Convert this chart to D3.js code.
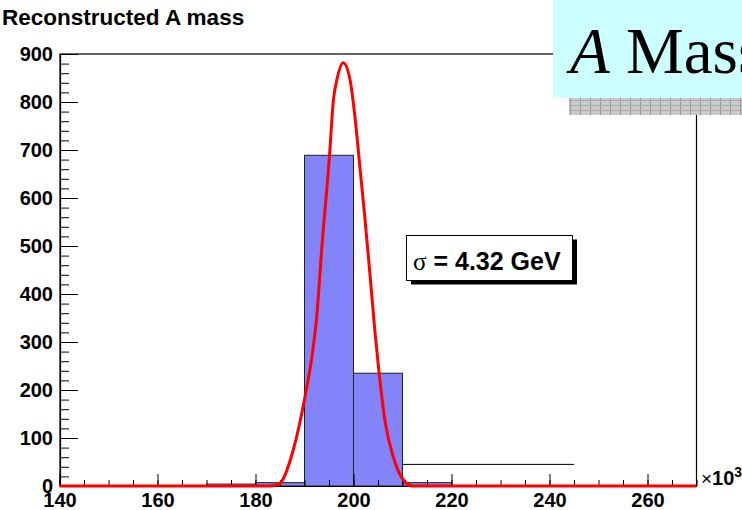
<!DOCTYPE html>
<html>
<head>
<meta charset="utf-8">
<script src="https://cdn.jsdelivr.net/npm/d3@7/dist/d3.min.js"></script>
<style>
  body { margin: 0; background: #fff; }
  svg { display: block; }
  text { font-family: "Liberation Sans", Arial, sans-serif; }
</style>
</head>
<body>
<svg id="chart" width="742" height="510"></svg>
<script>
// histogram bins (x in units of 10^3)
const binLow = [170, 180, 190, 200, 210];
const binHigh = [180, 190, 200, 210, 220];
const binCounts = [4, 7, 689, 235, 7];

// gaussian fit curve
const fitX = [140, 183, 184, 185, 187.7, 190.1, 191.7, 192.5, 193.5, 195.1, 195.9, 196.6, 197.9,
              199.3, 200.3, 201.3, 202.3, 203.4, 204.4, 205.3, 206.5, 208.1, 210.2, 212.1, 270];
const fitY = [0, 0, 1.5, 5.6, 75, 186, 283, 353, 492, 688, 804, 846, 882,
              846, 769, 665, 561, 436, 319, 228, 131, 61, 12.5, 0, 0];

// the stray horizontal segment right of the peak
const strayX = [210, 245];
const strayY = [45, 45];

const xTicks = [140, 160, 180, 200, 220, 240, 260];
const yTicks = [0, 100, 200, 300, 400, 500, 600, 700, 800, 900];

const svg = d3.select("#chart");
const plotL = 60, plotR = 696.5, plotT = 54, plotB = 486;

const x = d3.scaleLinear().domain([140, 270]).range([plotL - 0.5, plotR]);
const y = d3.scaleLinear().domain([0, 900]).range([plotB, plotT]);

// shadow hatch for the overlay box
const defs = svg.append("defs");
const hatch = defs.append("pattern").attr("id", "grey")
  .attr("width", 10).attr("height", 5).attr("patternUnits", "userSpaceOnUse");
hatch.append("rect").attr("width", 10).attr("height", 5).attr("fill", "#cacaca");
hatch.append("rect").attr("width", 1).attr("height", 5).attr("fill", "#999");
hatch.append("rect").attr("width", 10).attr("height", 1).attr("fill", "#aaa");

// frame
svg.append("rect")
  .attr("x", plotL).attr("y", plotT)
  .attr("width", plotR - plotL).attr("height", plotB - plotT)
  .attr("fill", "none").attr("stroke", "#000").attr("stroke-width", 1.2);

// bars
const bins = binCounts.map((c, i) => ({ lo: binLow[i], hi: binHigh[i], c }));
svg.append("g").selectAll("rect")
  .data(bins)
  .join("rect")
  .attr("x", d => x(d.lo))
  .attr("y", d => y(d.c))
  .attr("width", d => x(d.hi) - x(d.lo))
  .attr("height", d => y(0) - y(d.c))
  .attr("fill", "#8484fa")
  .attr("stroke", "#222")
  .attr("stroke-width", 1);

// stray segment
svg.append("line")
  .attr("x1", x(strayX[0])).attr("x2", x(strayX[1]))
  .attr("y1", y(strayY[0])).attr("y2", y(strayY[1]))
  .attr("stroke", "#000").attr("stroke-width", 1);

// axes
const yMinor = d3.range(0, 901, 20);
const xMinor = d3.range(140, 271, 5);

svg.append("g").attr("transform", `translate(${plotL},0)`)
  .call(d3.axisLeft(y).tickValues(yMinor).tickSize(-9).tickSizeOuter(0).tickFormat(""))
  .call(g => g.select(".domain").remove());
svg.append("g").attr("transform", `translate(0,${plotB})`)
  .call(d3.axisBottom(x).tickValues(xMinor).tickSize(-6).tickSizeOuter(0).tickFormat(""))
  .call(g => g.select(".domain").remove());

const yAxis = svg.append("g").attr("transform", `translate(${plotL},0)`)
  .call(d3.axisLeft(y).tickValues(yTicks).tickSize(-18).tickSizeOuter(0).tickPadding(7));
const xAxis = svg.append("g").attr("transform", `translate(0,${plotB})`)
  .call(d3.axisBottom(x).tickValues(xTicks).tickSize(-12).tickSizeOuter(0).tickPadding(7));

[yAxis, xAxis].forEach(g => {
  g.selectAll("text")
    .attr("fill", "#000")
    .style("font-family", "'Liberation Sans', Arial, sans-serif")
    .style("font-size", "20px")
    .style("font-weight", "bold");
  g.selectAll(".domain").attr("stroke", "#000").attr("stroke-width", 1.2);
});

// gaussian fit
const line = d3.line().x((d, i) => x(fitX[i])).y(d => y(d)).curve(d3.curveMonotoneX);
svg.append("path")
  .attr("d", line(fitY))
  .attr("fill", "none")
  .attr("stroke", "#ff0000")
  .attr("stroke-width", 3)
  .attr("stroke-linejoin", "round");

// x10^3 label
const expo = svg.append("text").attr("x", 701).attr("y", 485);
expo.append("tspan").text("×").style("font-size", "19px");
expo.append("tspan").text("10").style("font-size", "20px").style("font-weight", "bold");
expo.append("tspan").text("3").attr("dy", -8).style("font-size", "14px").style("font-weight", "bold");

// sigma box
svg.append("rect").attr("x", 411).attr("y", 239.5).attr("width", 166).attr("height", 45)
  .attr("fill", "#000");
svg.append("rect").attr("x", 406.5).attr("y", 235.5).attr("width", 166).attr("height", 45)
  .attr("fill", "#fff").attr("stroke", "#000").attr("stroke-width", 1);
const sig = svg.append("text").attr("x", 413).attr("y", 270)
  .style("font-size", "25px").style("font-weight", "bold");
sig.append("tspan").text("σ").style("font-family", "'Liberation Serif', serif").style("font-weight", "normal");
sig.append("tspan").text(" = 4.32 GeV");

// title
svg.append("text").attr("x", 2).attr("y", 25)
  .style("font-size", "22.5px").style("font-weight", "bold")
  .text("Reconstructed A mass");

// overlay box "A Mass"
svg.append("rect").attr("x", 569).attr("y", 98).attr("width", 180).attr("height", 17)
  .attr("fill", "url(#grey)");
svg.append("rect").attr("x", 553).attr("y", -5).attr("width", 200).attr("height", 103)
  .attr("fill", "#ccffff");
const big = svg.append("text").attr("x", 570).attr("y", 73)
  .style("font-family", "'Liberation Serif', 'Times New Roman', serif")
  .style("font-size", "65px");
big.append("tspan").text("A").style("font-style", "italic");
big.append("tspan").text(" Mass");
</script>
</body>
</html>
